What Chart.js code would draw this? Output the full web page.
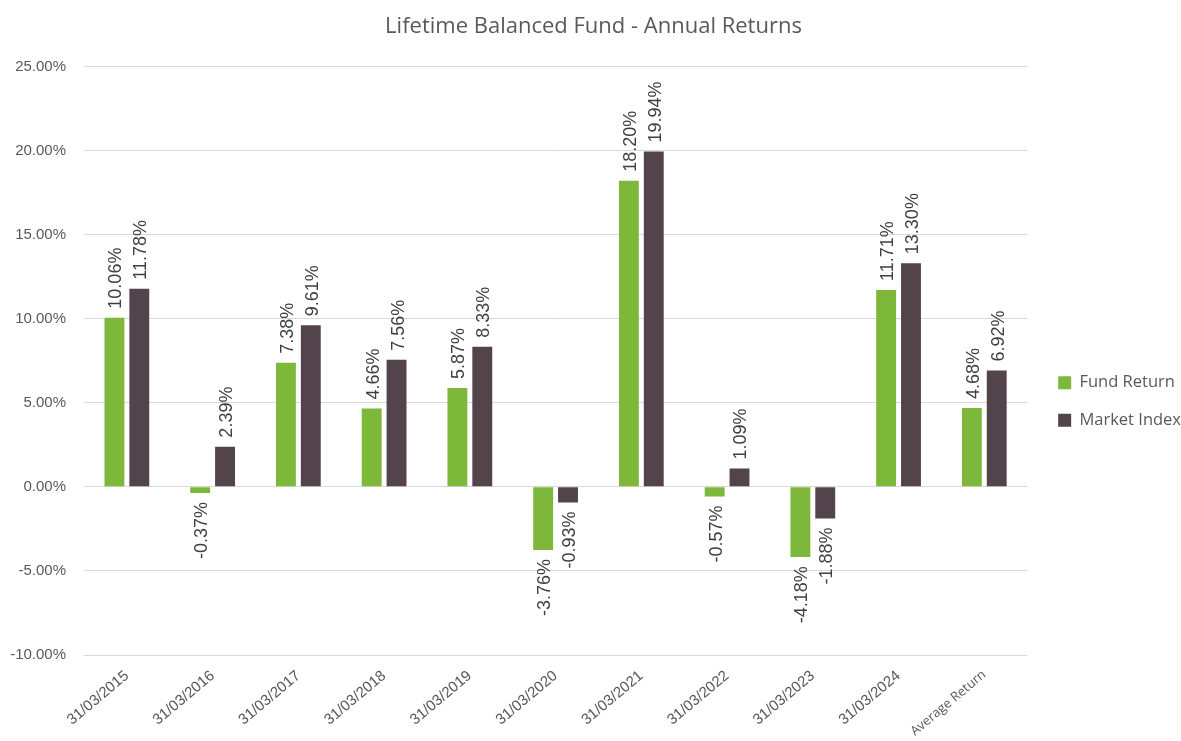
<!DOCTYPE html>
<html>
<head>
<meta charset="utf-8">
<script src="https://cdn.jsdelivr.net/npm/chart.js@4"></script>
<style>
html,body{margin:0;padding:0;background:#fff;}
#wrap{width:1181px;height:741px;position:relative;}
</style>
</head>
<body>
<div id="wrap"><canvas id="c" width="1181" height="741"></canvas></div>
<script>
const categories = ["31/03/2015","31/03/2016","31/03/2017","31/03/2018","31/03/2019","31/03/2020","31/03/2021","31/03/2022","31/03/2023","31/03/2024","Average Return"];
const fundReturn = [10.06,-0.37,7.38,4.66,5.87,-3.76,18.20,-0.57,-4.18,11.71,4.68];
const marketIndex = [11.78,2.39,9.61,7.56,8.33,-0.93,19.94,1.09,-1.88,13.30,6.92];
const yTicks = {min:-10, max:25, step:5};

const labelPlugin = {
  id:'barLabels',
  afterDatasetsDraw(chart){
    const ctx = chart.ctx;
    ctx.save();
    ctx.font = '18px "Liberation Sans", Arial, sans-serif';
    ctx.fillStyle = '#404040';
    ctx.textBaseline = 'middle';
    chart.data.datasets.forEach((ds, di) => {
      const meta = chart.getDatasetMeta(di);
      meta.data.forEach((bar, i) => {
        const v = ds.data[i];
        const txt = v.toFixed(2) + '%';
        ctx.save();
        ctx.translate(bar.x + 2, v >= 0 ? bar.y - 9 : bar.y + 9);
        ctx.rotate(-Math.PI/2);
        ctx.textAlign = v >= 0 ? 'left' : 'right';
        ctx.fillText(txt, 0, 0);
        ctx.restore();
      });
    });
    ctx.restore();
  }
};

const legendShift = {
  id:'legendShift',
  afterLayout(chart){
    const lg = chart.legend;
    if (!lg) return;
    const dx = 10, dy = 31;
    lg.left += dx; lg.right += dx; lg.top += dy; lg.bottom += dy;
  }
};

new Chart(document.getElementById('c'), {
  type:'bar',
  data:{
    labels:categories,
    datasets:[
      {label:'Fund Return', data:fundReturn, backgroundColor:'#7DB83A', categoryPercentage:0.58, barPercentage:0.8},
      {label:'Market Index', data:marketIndex, backgroundColor:'#53434A', categoryPercentage:0.58, barPercentage:0.8}
    ]
  },
  options:{
    responsive:false,
    animation:false,
    layout:{padding:{left:6, right:0, top:0, bottom:0}},
    plugins:{
      title:{display:true, text:'Lifetime Balanced Fund - Annual Returns', color:'#595959',
        font:{family:'"Open Sans", sans-serif', size:22, weight:'normal'}, padding:{top:14, bottom:26}},
      legend:{position:'right', align:'center',
        labels:{boxWidth:13, boxHeight:13, padding:21, color:'#595959',
          font:{family:'"Open Sans", sans-serif', size:16.5}}},
      tooltip:{enabled:false}
    },
    scales:{
      x:{
        grid:{display:false, drawTicks:false},
        border:{display:false},
        afterFit(s){ s.paddingLeft = 0; s.paddingRight = 0; s.height = 86; },
        ticks:{color:'#595959', maxRotation:40, minRotation:40, padding:12, autoSkip:false,
          font:(c) => (c.index === categories.length - 1)
            ? {family:'"Open Sans", sans-serif', size:13}
            : {family:'"Liberation Sans", Arial, sans-serif', size:15}}
      },
      y:{
        min:yTicks.min, max:yTicks.max,
        grid:{color:'#D9D9D9', drawTicks:false, lineWidth:1},
        border:{display:false},
        afterFit(s){ s.width = 78; },
        ticks:{stepSize:yTicks.step, padding:18, color:'#595959',
          font:{family:'"Liberation Sans", Arial, sans-serif', size:15},
          callback:v => v.toFixed(2) + '%'}
      }
    }
  },
  plugins:[labelPlugin, legendShift]
});
</script>
</body>
</html>
